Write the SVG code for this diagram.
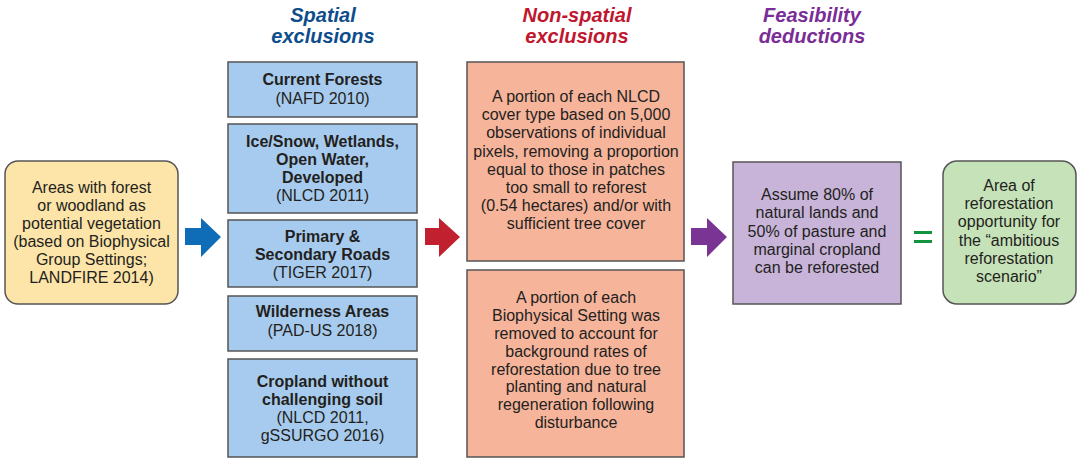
<svg xmlns="http://www.w3.org/2000/svg" width="1084" height="464" viewBox="0 0 1084 464">
<style>
text{font-family:"Liberation Sans",Arial,sans-serif;font-size:16px;fill:#231f20;text-anchor:middle}
.b{font-weight:bold}
.t{font-size:20px;font-weight:bold;font-style:italic}
.box{stroke:#555;stroke-width:1.5}
.blue{fill:#a7cbee}
.sal{fill:#f6b49b}
</style>
<rect width="1084" height="464" fill="#fff"/>
<g id="titles">
<text class="t" x="323" y="22" fill="#0d4d8c" style="fill:#0d4d8c">Spatial</text>
<text class="t" x="323" y="43" style="fill:#0d4d8c">exclusions</text>
<text class="t" x="577" y="22" style="fill:#c0172f">Non-spatial</text>
<text class="t" x="577" y="43" style="fill:#c0172f">exclusions</text>
<text class="t" x="812" y="22" style="fill:#7a2d96">Feasibility</text>
<text class="t" x="812" y="43" style="fill:#7a2d96">deductions</text>
</g>
<g id="start">
<rect class="box" x="5" y="161" width="173" height="143" rx="13" fill="#fde4a8"/>
<text x="91.5" y="193">Areas with forest</text>
<text x="91.5" y="211">or woodland as</text>
<text x="91.5" y="229">potential vegetation</text>
<text x="91.5" y="247">(based on Biophysical</text>
<text x="91.5" y="265">Group Settings;</text>
<text x="91.5" y="283">LANDFIRE 2014)</text>
</g>
<g id="forests">
<rect class="box blue" x="228" y="62" width="189" height="55"/>
<text class="b" x="322.5" y="85">Current Forests</text>
<text x="322.5" y="104">(NAFD 2010)</text>
</g>
<g id="ice">
<rect class="box blue" x="228" y="124" width="189" height="89"/>
<text class="b" x="322.5" y="147">Ice/Snow, Wetlands,</text>
<text class="b" x="322.5" y="165">Open Water,</text>
<text class="b" x="322.5" y="183">Developed</text>
<text x="322.5" y="201">(NLCD 2011)</text>
</g>
<g id="roads">
<rect class="box blue" x="228" y="220" width="189" height="67"/>
<text class="b" x="322.5" y="242">Primary &amp;</text>
<text class="b" x="322.5" y="260">Secondary Roads</text>
<text x="322.5" y="278">(TIGER 2017)</text>
</g>
<g id="wilderness">
<rect class="box blue" x="228" y="296" width="189" height="55"/>
<text class="b" x="322.5" y="317">Wilderness Areas</text>
<text x="322.5" y="336">(PAD-US 2018)</text>
</g>
<g id="cropland">
<rect class="box blue" x="228" y="359" width="189" height="98"/>
<text class="b" x="322.5" y="387">Cropland without</text>
<text class="b" x="322.5" y="405">challenging soil</text>
<text x="322.5" y="423">(NLCD 2011,</text>
<text x="322.5" y="441">gSSURGO 2016)</text>
</g>
<g id="nlcd">
<rect class="box sal" x="467" y="62" width="217" height="199"/>
<text x="576" y="102">A portion of each NLCD</text>
<text x="576" y="120">cover type based on 5,000</text>
<text x="576" y="138">observations of individual</text>
<text x="576" y="157">pixels, removing a proportion</text>
<text x="576" y="175">equal to those in patches</text>
<text x="576" y="193">too small to reforest</text>
<text x="576" y="211">(0.54 hectares) and/or with</text>
<text x="576" y="229">sufficient tree cover</text>
</g>
<g id="bps">
<rect class="box sal" x="467" y="270" width="217" height="187"/>
<text x="576" y="303">A portion of each</text>
<text x="576" y="321">Biophysical Setting was</text>
<text x="576" y="339">removed to account for</text>
<text x="576" y="357">background rates of</text>
<text x="576" y="375">reforestation due to tree</text>
<text x="576" y="392">planting and natural</text>
<text x="576" y="410">regeneration following</text>
<text x="576" y="428">disturbance</text>
</g>
<g id="feasibility">
<rect class="box" x="733" y="162" width="168" height="142" fill="#c8b4d9"/>
<text x="817" y="200">Assume 80% of</text>
<text x="817" y="218">natural lands and</text>
<text x="817" y="237">50% of pasture and</text>
<text x="817" y="255">marginal cropland</text>
<text x="817" y="273">can be reforested</text>
</g>
<g id="result">
<rect class="box" x="943" y="161" width="133" height="143" rx="14" fill="#c6e2b8"/>
<text x="1009" y="191">Area of</text>
<text x="1009" y="209">reforestation</text>
<text x="1009" y="227">opportunity for</text>
<text x="1009" y="246">the “ambitious</text>
<text x="1009" y="264">reforestation</text>
<text x="1009" y="282">scenario”</text>
</g>
<g id="connectors">
<polygon points="185,228 201,228 201,218 221,237 201,257 201,245 185,245" fill="#0f6cb7"/>
<polygon points="425,228 439,228 439,218 460,237 439,257 439,245 425,245" fill="#c1202f"/>
<polygon points="691,228 707,228 707,218 727,237 707,257 707,245 691,245" fill="#7a3594"/>
<rect x="914" y="231" width="18" height="3" fill="#13933f"/>
<rect x="914" y="240" width="18" height="3" fill="#13933f"/>
</g>
</svg>
